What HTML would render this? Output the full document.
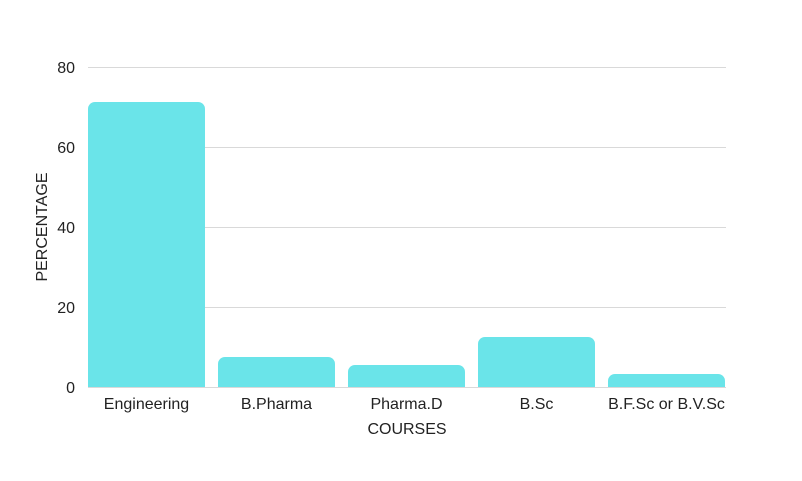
<!DOCTYPE html>
<html><head><style>body{margin:0;background:#fff}</style></head><body>
<svg width="802" height="476" xmlns="http://www.w3.org/2000/svg" font-family="Liberation Sans, sans-serif" font-size="16" fill="#222">
<g stroke="#d9d9d9" stroke-width="1">
<line x1="88" x2="726" y1="67.5" y2="67.5"/>
<line x1="88" x2="726" y1="147.5" y2="147.5"/>
<line x1="88" x2="726" y1="227.5" y2="227.5"/>
<line x1="88" x2="726" y1="307.5" y2="307.5"/>
<line x1="88" x2="726" y1="387.5" y2="387.5"/>
</g>
<g fill="#6ae4e9">
<path d="M88,387V109a7,7 0 0 1 7,-7H198a7,7 0 0 1 7,7V387Z"/>
<path d="M218,387V364a7,7 0 0 1 7,-7H328a7,7 0 0 1 7,7V387Z"/>
<path d="M348,387V372a7,7 0 0 1 7,-7H458a7,7 0 0 1 7,7V387Z"/>
<path d="M478,387V344a7,7 0 0 1 7,-7H588a7,7 0 0 1 7,7V387Z"/>
<path d="M608,387V381a7,7 0 0 1 7,-7H718a7,7 0 0 1 7,7V387Z"/>
</g>
<g text-anchor="end">
<text x="75" y="73">80</text>
<text x="75" y="153">60</text>
<text x="75" y="233">40</text>
<text x="75" y="313">20</text>
<text x="75" y="393">0</text>
</g>
<g text-anchor="middle">
<text x="146.5" y="409">Engineering</text>
<text x="276.5" y="409">B.Pharma</text>
<text x="406.5" y="409">Pharma.D</text>
<text x="536.5" y="409">B.Sc</text>
<text x="666.5" y="409">B.F.Sc or B.V.Sc</text>
<text x="407" y="434">COURSES</text>
<text transform="translate(47,227) rotate(-90)">PERCENTAGE</text>
</g>
</svg>
</body></html>
